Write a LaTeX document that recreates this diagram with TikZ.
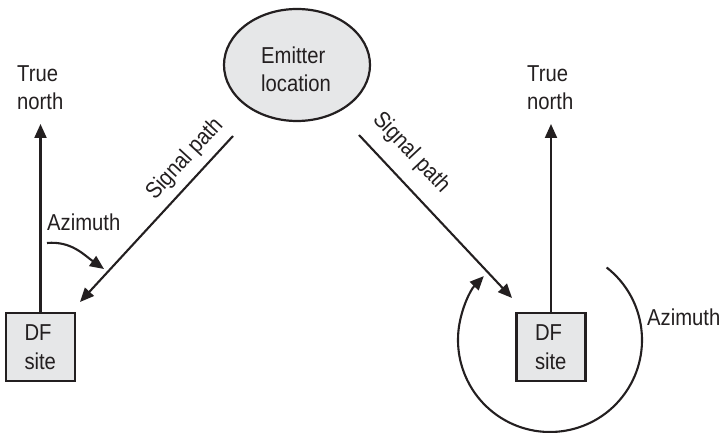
\documentclass[tikz,border=0pt]{standalone}
\usepackage{fontspec}
\setmainfont{Liberation Sans}[FakeStretch=0.88]
\usetikzlibrary{arrows.meta,shapes.geometric,calc}
\definecolor{ink}{HTML}{231F20}
\definecolor{shade}{HTML}{E6E7E8}
\tikzset{
  lbl/.style={inner sep=0pt, align=left, font=\fontsize{23}{28.5}\selectfont, text=ink},
  sitebox/.style={draw=ink, line width=2.5pt, fill=shade, minimum width=69pt, minimum height=68pt,
    inner sep=0pt, text width=32pt, align=left, font=\fontsize{23}{28.5}\selectfont, text=ink},
  emitbox/.style={ellipse, draw=ink, line width=2.2pt, fill=shade, minimum width=146pt, minimum height=112pt, inner sep=0pt},
  arr/.style={draw=ink, line width=2.1pt, -{Triangle[length=14pt,width=12pt]}},
}
\begin{document}
\begin{tikzpicture}[x=1pt,y=1pt]
\useasboundingbox (0,0) rectangle (722,433);
% emitter
\node[emitbox] (emitter) at (297,368) {};
\node[lbl, anchor=west] (emitterlabel) at (261,363.5) {Emitter\\location};
% DF sites
\node[sitebox] (lsite) at (40.5,86) {DF\\site};
\node[sitebox] (rsite) at (551,86) {DF\\site};
% true north
\coordinate (lnorth) at (40.5,309);
\coordinate (rnorth) at (551,309);
\draw[arr] (lsite.north) -- (lnorth);
\draw[arr] (rsite.north) -- (rnorth);
\node[lbl, anchor=west] (lnlabel) at (17,345.5) {True\\north};
\node[lbl, anchor=west] (rnlabel) at (527,345.5) {True\\north};
% signal paths
\coordinate (ls) at (233,297);
\coordinate (lt) at (80,131);
\coordinate (rs) at (359,298);
\coordinate (rt) at (512,135);
\draw[arr] (ls) -- (lt);
\draw[arr] (rs) -- (rt);
\node[lbl, rotate=47.3] (lsig) at (185,274) {Signal path};
\node[lbl, rotate=-46.8] (rsig) at (411,280) {Signal path};
% left azimuth
\node[lbl, anchor=west] (lazi) at (47,210.5) {Azimuth};
\coordinate (la1) at (47,190);
\coordinate (la2) at (104,164);
\draw[arr] (la1) to[out=5,in=145] (la2);
% right azimuth
\coordinate (rc) at (550,93);
\coordinate (ra1) at ($(rc)+(52:92)$);
\draw[arr] (ra1) arc[start angle=52, end angle=-224, radius=92];
\node[lbl, anchor=west] (razi) at (647,116) {Azimuth};
\end{tikzpicture}
\end{document}
